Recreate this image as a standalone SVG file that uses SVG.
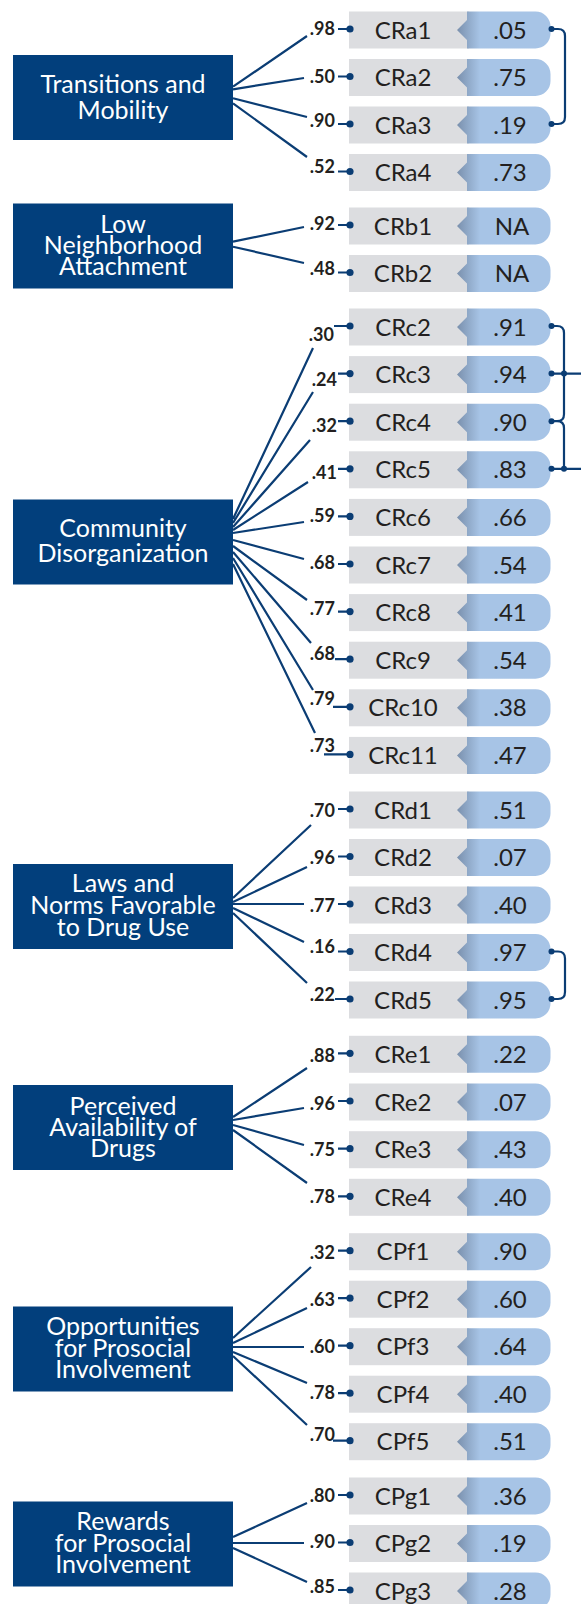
<svg xmlns="http://www.w3.org/2000/svg" xmlns:xlink="http://www.w3.org/1999/xlink" width="581" height="1604" viewBox="0 0 581 1604">
<style>
.cbox{fill:#023f7c}
.ctext{fill:#ffffff;font-family:Lato,"Open Sans","Liberation Sans",sans-serif;font-size:25px;text-anchor:middle}
.nm{fill:#231f20;font-family:Lato,"Open Sans","Liberation Sans",sans-serif;font-size:24px;text-anchor:middle}
.val{fill:#231f20;font-family:Lato,"Open Sans","Liberation Sans",sans-serif;font-size:24px;text-anchor:middle}
.ld{fill:#231f20;font-family:Lato,"Liberation Sans",sans-serif;font-size:18px;font-weight:bold;text-anchor:end}
.ln{fill:none;stroke:#0b3d74;stroke-width:2.2}
.dot{fill:#0b3d74}
</style>
<defs>
<linearGradient id="notch" gradientUnits="userSpaceOnUse" x1="457" y1="0" x2="480" y2="0">
<stop offset="0" stop-color="#7a90ad"/>
<stop offset="1" stop-color="#a7c4e6"/>
</linearGradient>
<g id="ind-bg">
<rect x="349" y="-18.5" width="120" height="37" fill="#dcdde0"/>
<path d="M467,-18.5 H535.5 A15,15 0 0 1 550.5,-3.5 V3.5 A15,15 0 0 1 535.5,18.5 H467 V10 L457,0 L467,-10 Z" fill="url(#notch)"/>
</g>
</defs>
<rect width="581" height="1604" fill="#ffffff"/>

<!-- Construct nodes -->
<g id="transitions"><rect class="cbox" x="13" y="55" width="220" height="85"/><text class="ctext" x="123" y="93">Transitions and</text><text class="ctext" x="123" y="118.5">Mobility</text></g>
<g id="low-neighborhood"><rect class="cbox" x="13" y="203.5" width="220" height="85"/><text class="ctext" x="123" y="233">Low</text><text class="ctext" x="123" y="254">Neighborhood</text><text class="ctext" x="123" y="275">Attachment</text></g>
<g id="community"><rect class="cbox" x="13" y="499.5" width="220" height="85"/><text class="ctext" x="123" y="536.5">Community</text><text class="ctext" x="123" y="562">Disorganization</text></g>
<g id="laws"><rect class="cbox" x="13" y="864" width="220" height="85"/><text class="ctext" x="123" y="892">Laws and</text><text class="ctext" x="123" y="914">Norms Favorable</text><text class="ctext" x="123" y="936">to Drug Use</text></g>
<g id="perceived"><rect class="cbox" x="13" y="1085" width="220" height="85"/><text class="ctext" x="123" y="1115">Perceived</text><text class="ctext" x="123" y="1135.5">Availability of</text><text class="ctext" x="123" y="1156.5">Drugs</text></g>
<g id="opportunities"><rect class="cbox" x="13" y="1306.5" width="220" height="85"/><text class="ctext" x="123" y="1335">Opportunities</text><text class="ctext" x="123" y="1356.5">for Prosocial</text><text class="ctext" x="123" y="1378">Involvement</text></g>
<g id="rewards"><rect class="cbox" x="13" y="1501.5" width="220" height="85"/><text class="ctext" x="123" y="1530">Rewards</text><text class="ctext" x="123" y="1551.5">for Prosocial</text><text class="ctext" x="123" y="1573">Involvement</text></g>

<!-- Indicator nodes -->
<g id="CRa1" transform="translate(0,30)"><use xlink:href="#ind-bg"/><text class="nm" x="403" y="8.5">CRa1</text><text class="val" x="510" y="8.5">.05</text></g>
<g id="CRa2" transform="translate(0,77.5)"><use xlink:href="#ind-bg"/><text class="nm" x="403" y="8.5">CRa2</text><text class="val" x="510" y="8.5">.75</text></g>
<g id="CRa3" transform="translate(0,125)"><use xlink:href="#ind-bg"/><text class="nm" x="403" y="8.5">CRa3</text><text class="val" x="510" y="8.5">.19</text></g>
<g id="CRa4" transform="translate(0,172.5)"><use xlink:href="#ind-bg"/><text class="nm" x="403" y="8.5">CRa4</text><text class="val" x="510" y="8.5">.73</text></g>
<g id="CRb1" transform="translate(0,226)"><use xlink:href="#ind-bg"/><text class="nm" x="403" y="8.5">CRb1</text><text class="val" x="512" y="8.5">NA</text></g>
<g id="CRb2" transform="translate(0,273.5)"><use xlink:href="#ind-bg"/><text class="nm" x="403" y="8.5">CRb2</text><text class="val" x="512" y="8.5">NA</text></g>
<g id="CRc2" transform="translate(0,327)"><use xlink:href="#ind-bg"/><text class="nm" x="403" y="8.5">CRc2</text><text class="val" x="510" y="8.5">.91</text></g>
<g id="CRc3" transform="translate(0,374.6)"><use xlink:href="#ind-bg"/><text class="nm" x="403" y="8.5">CRc3</text><text class="val" x="510" y="8.5">.94</text></g>
<g id="CRc4" transform="translate(0,422.2)"><use xlink:href="#ind-bg"/><text class="nm" x="403" y="8.5">CRc4</text><text class="val" x="510" y="8.5">.90</text></g>
<g id="CRc5" transform="translate(0,469.8)"><use xlink:href="#ind-bg"/><text class="nm" x="403" y="8.5">CRc5</text><text class="val" x="510" y="8.5">.83</text></g>
<g id="CRc6" transform="translate(0,517.4)"><use xlink:href="#ind-bg"/><text class="nm" x="403" y="8.5">CRc6</text><text class="val" x="510" y="8.5">.66</text></g>
<g id="CRc7" transform="translate(0,565)"><use xlink:href="#ind-bg"/><text class="nm" x="403" y="8.5">CRc7</text><text class="val" x="510" y="8.5">.54</text></g>
<g id="CRc8" transform="translate(0,612.6)"><use xlink:href="#ind-bg"/><text class="nm" x="403" y="8.5">CRc8</text><text class="val" x="510" y="8.5">.41</text></g>
<g id="CRc9" transform="translate(0,660.2)"><use xlink:href="#ind-bg"/><text class="nm" x="403" y="8.5">CRc9</text><text class="val" x="510" y="8.5">.54</text></g>
<g id="CRc10" transform="translate(0,707.8)"><use xlink:href="#ind-bg"/><text class="nm" x="403" y="8.5">CRc10</text><text class="val" x="510" y="8.5">.38</text></g>
<g id="CRc11" transform="translate(0,755.4)"><use xlink:href="#ind-bg"/><text class="nm" x="403" y="8.5">CRc11</text><text class="val" x="510" y="8.5">.47</text></g>
<g id="CRd1" transform="translate(0,810)"><use xlink:href="#ind-bg"/><text class="nm" x="403" y="8.5">CRd1</text><text class="val" x="510" y="8.5">.51</text></g>
<g id="CRd2" transform="translate(0,857.5)"><use xlink:href="#ind-bg"/><text class="nm" x="403" y="8.5">CRd2</text><text class="val" x="510" y="8.5">.07</text></g>
<g id="CRd3" transform="translate(0,905)"><use xlink:href="#ind-bg"/><text class="nm" x="403" y="8.5">CRd3</text><text class="val" x="510" y="8.5">.40</text></g>
<g id="CRd4" transform="translate(0,952.5)"><use xlink:href="#ind-bg"/><text class="nm" x="403" y="8.5">CRd4</text><text class="val" x="510" y="8.5">.97</text></g>
<g id="CRd5" transform="translate(0,1000)"><use xlink:href="#ind-bg"/><text class="nm" x="403" y="8.5">CRd5</text><text class="val" x="510" y="8.5">.95</text></g>
<g id="CRe1" transform="translate(0,1054.3)"><use xlink:href="#ind-bg"/><text class="nm" x="403" y="8.5">CRe1</text><text class="val" x="510" y="8.5">.22</text></g>
<g id="CRe2" transform="translate(0,1102)"><use xlink:href="#ind-bg"/><text class="nm" x="403" y="8.5">CRe2</text><text class="val" x="510" y="8.5">.07</text></g>
<g id="CRe3" transform="translate(0,1149.7)"><use xlink:href="#ind-bg"/><text class="nm" x="403" y="8.5">CRe3</text><text class="val" x="510" y="8.5">.43</text></g>
<g id="CRe4" transform="translate(0,1197.3)"><use xlink:href="#ind-bg"/><text class="nm" x="403" y="8.5">CRe4</text><text class="val" x="510" y="8.5">.40</text></g>
<g id="CPf1" transform="translate(0,1251.7)"><use xlink:href="#ind-bg"/><text class="nm" x="403" y="8.5">CPf1</text><text class="val" x="510" y="8.5">.90</text></g>
<g id="CPf2" transform="translate(0,1299.2)"><use xlink:href="#ind-bg"/><text class="nm" x="403" y="8.5">CPf2</text><text class="val" x="510" y="8.5">.60</text></g>
<g id="CPf3" transform="translate(0,1346.7)"><use xlink:href="#ind-bg"/><text class="nm" x="403" y="8.5">CPf3</text><text class="val" x="510" y="8.5">.64</text></g>
<g id="CPf4" transform="translate(0,1394.2)"><use xlink:href="#ind-bg"/><text class="nm" x="403" y="8.5">CPf4</text><text class="val" x="510" y="8.5">.40</text></g>
<g id="CPf5" transform="translate(0,1441.7)"><use xlink:href="#ind-bg"/><text class="nm" x="403" y="8.5">CPf5</text><text class="val" x="510" y="8.5">.51</text></g>
<g id="CPg1" transform="translate(0,1496)"><use xlink:href="#ind-bg"/><text class="nm" x="403" y="8.5">CPg1</text><text class="val" x="510" y="8.5">.36</text></g>
<g id="CPg2" transform="translate(0,1543.5)"><use xlink:href="#ind-bg"/><text class="nm" x="403" y="8.5">CPg2</text><text class="val" x="510" y="8.5">.19</text></g>
<g id="CPg3" transform="translate(0,1591)"><use xlink:href="#ind-bg"/><text class="nm" x="403" y="8.5">CPg3</text><text class="val" x="510" y="8.5">.28</text></g>

<!-- Connectors -->
<g id="connectors">
<path class="ln" d="M233,86.7 L307,36 M233,89.3 L304,78 M233,98.3 L307,117 M233,103.3 L307,157
M233,241.7 L304,227 M233,246.7 L304,263
M233,519 L313,348 M233,523 L313,392 M233,527 L310,440 M233,530 L308,482 M233,533 L304,522 M233,540 L304,559 M233,546 L307,600 M233,552 L311,643 M233,558 L313,690 M233,564 L315,733
M233,898 L311,825 M233,902 L307,867 M233,904 L304,904 M233,908 L304,942 M233,913 L307,983
M233,1117 L307,1068 M233,1120 L304,1108 M233,1125 L304,1145 M233,1130 L307,1183
M233,1338 L311,1267 M233,1343 L307,1308 M233,1347 L304,1347 M233,1352 L307,1383 M233,1356 L307,1425
M233,1537 L307,1503 M233,1543 L304,1543 M233,1548 L307,1582"/>
<path class="ln" d="M338,29 H350 M338,76.5 H350 M338,124 H350 M338,171.5 H350
M338,225 H350 M338,272.5 H350
M334,326 H350 M338,373.6 H350 M338,421.2 H350 M338,468.8 H350 M338,516.4 H350 M338,564 H350 M338,611.6 H350 M335,659.2 H350 M333,706.8 H350 M324,754.4 H350
M338,809 H350 M338,856.5 H350 M338,904 H350 M338,951.5 H350 M335,999 H350
M338,1053.3 H350 M338,1101 H350 M338,1148.7 H350 M338,1196.3 H350
M338,1250.7 H350 M338,1298.2 H350 M338,1345.7 H350 M338,1393.2 H350 M333,1440.7 H350
M338,1495 H350 M338,1542.5 H350 M338,1590 H350"/>
<g class="dot">
<circle cx="350" cy="29" r="3.6"/><circle cx="350" cy="76.5" r="3.6"/><circle cx="350" cy="124" r="3.6"/><circle cx="350" cy="171.5" r="3.6"/>
<circle cx="350" cy="225" r="3.6"/><circle cx="350" cy="272.5" r="3.6"/>
<circle cx="350" cy="326" r="3.6"/><circle cx="350" cy="373.6" r="3.6"/><circle cx="350" cy="421.2" r="3.6"/><circle cx="350" cy="468.8" r="3.6"/><circle cx="350" cy="516.4" r="3.6"/><circle cx="350" cy="564" r="3.6"/><circle cx="350" cy="611.6" r="3.6"/><circle cx="350" cy="659.2" r="3.6"/><circle cx="350" cy="706.8" r="3.6"/><circle cx="350" cy="754.4" r="3.6"/>
<circle cx="350" cy="809" r="3.6"/><circle cx="350" cy="856.5" r="3.6"/><circle cx="350" cy="904" r="3.6"/><circle cx="350" cy="951.5" r="3.6"/><circle cx="350" cy="999" r="3.6"/>
<circle cx="350" cy="1053.3" r="3.6"/><circle cx="350" cy="1101" r="3.6"/><circle cx="350" cy="1148.7" r="3.6"/><circle cx="350" cy="1196.3" r="3.6"/>
<circle cx="350" cy="1250.7" r="3.6"/><circle cx="350" cy="1298.2" r="3.6"/><circle cx="350" cy="1345.7" r="3.6"/><circle cx="350" cy="1393.2" r="3.6"/><circle cx="350" cy="1440.7" r="3.6"/>
<circle cx="350" cy="1495" r="3.6"/><circle cx="350" cy="1542.5" r="3.6"/><circle cx="350" cy="1590" r="3.6"/>
</g>
<!-- correlated errors -->
<path class="ln" d="M551.5,29 H558 Q565,29 565,36 V117 Q565,124 558,124 H551.5"/>
<path class="ln" d="M551.5,326 H557 Q564,326 564,333 V414.2 Q564,421.2 557,421.2 H551.5 M557,421.2 Q564,421.2 564,428.2 V468.8 M551.5,373.6 H581 M551.5,468.8 H581"/>
<path class="ln" d="M551.5,951.5 H558 Q565,951.5 565,958.5 V992 Q565,999 558,999 H551.5"/>
<g class="dot">
<circle cx="551.5" cy="29" r="3"/><circle cx="551.5" cy="124" r="3"/>
<circle cx="551.5" cy="326" r="3"/><circle cx="551.5" cy="373.6" r="3"/><circle cx="551.5" cy="421.2" r="3"/><circle cx="551.5" cy="468.8" r="3"/>
<circle cx="564" cy="373.6" r="3"/><circle cx="564" cy="468.8" r="3"/>
<circle cx="551.5" cy="951.5" r="3"/><circle cx="551.5" cy="999" r="3"/>
</g>
<!-- loading labels -->
<text class="ld" x="335" y="34.5">.98</text>
<text class="ld" x="335" y="82.5">.50</text>
<text class="ld" x="335" y="126.5">.90</text>
<text class="ld" x="335" y="173">.52</text>
<text class="ld" x="335" y="229.5">.92</text>
<text class="ld" x="335" y="274.5">.48</text>
<text class="ld" x="334" y="341">.30</text>
<text class="ld" x="337" y="385.5">.24</text>
<text class="ld" x="337" y="432">.32</text>
<text class="ld" x="337" y="479">.41</text>
<text class="ld" x="335" y="522">.59</text>
<text class="ld" x="335" y="569">.68</text>
<text class="ld" x="335" y="614.5">.77</text>
<text class="ld" x="335" y="659.5">.68</text>
<text class="ld" x="335" y="704.5">.79</text>
<text class="ld" x="335" y="751.5">.73</text>
<text class="ld" x="335" y="817">.70</text>
<text class="ld" x="335" y="864">.96</text>
<text class="ld" x="335" y="911.5">.77</text>
<text class="ld" x="335" y="953">.16</text>
<text class="ld" x="335" y="1000.5">.22</text>
<text class="ld" x="335" y="1061.5">.88</text>
<text class="ld" x="335" y="1109.5">.96</text>
<text class="ld" x="335" y="1156">.75</text>
<text class="ld" x="335" y="1202.5">.78</text>
<text class="ld" x="335" y="1259">.32</text>
<text class="ld" x="335" y="1306">.63</text>
<text class="ld" x="335" y="1353">.60</text>
<text class="ld" x="335" y="1398.5">.78</text>
<text class="ld" x="335" y="1441">.70</text>
<text class="ld" x="335" y="1501.5">.80</text>
<text class="ld" x="335" y="1548">.90</text>
<text class="ld" x="335" y="1593">.85</text>
</g>
</svg>
